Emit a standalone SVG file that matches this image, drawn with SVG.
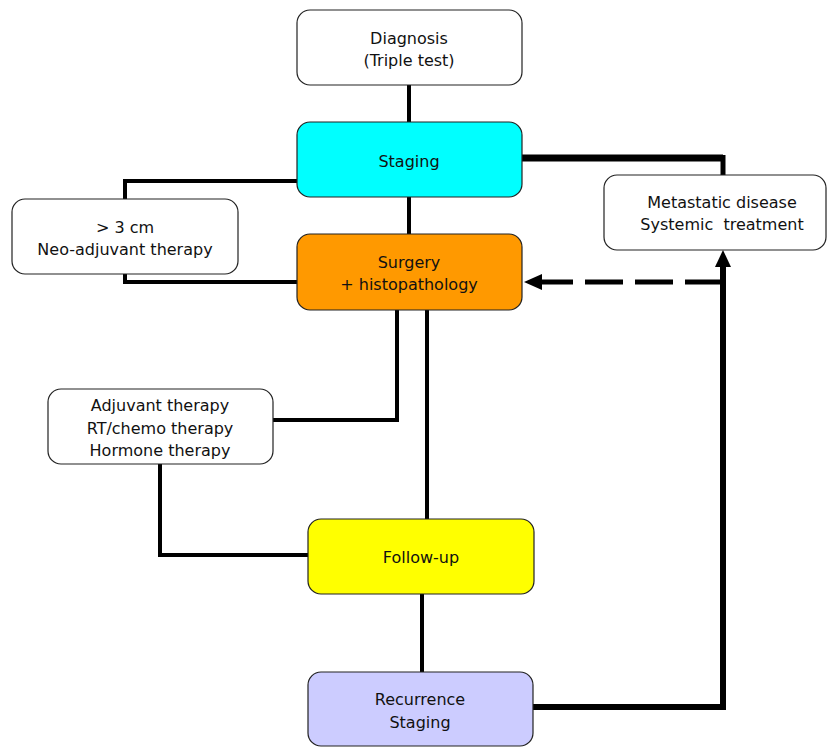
<svg xmlns="http://www.w3.org/2000/svg" width="832" height="747" viewBox="0 0 832 747">
<style>
.box{stroke:#222;stroke-width:1.2}
.t{font-family:"DejaVu Sans",Verdana,sans-serif;font-size:16px;fill:#111;text-anchor:middle}
.c{fill:none;stroke:#000;stroke-linejoin:miter;stroke-linecap:butt}
</style>
<defs>
<marker id="ah" viewBox="0 0 10 10" refX="9" refY="5" markerWidth="3" markerHeight="3" orient="auto" markerUnits="strokeWidth">
<path d="M0,0L10,5L0,10z" fill="#000"/>
</marker>
</defs>
<rect width="832" height="747" fill="#fff"/>
<g id="connectors">
<path class="c" stroke-width="4" d="M409,85V122"/>
<path class="c" stroke-width="4" d="M409,197V234"/>
<path class="c" stroke-width="7" d="M522,158H723"/>
<path class="c" stroke-width="5" d="M723,155V175"/>
<path class="c" stroke-width="4" d="M297,181H125V199"/>
<path class="c" stroke-width="4" d="M125,274V282H297"/>
<path class="c" stroke-width="5" stroke-dasharray="38,12" d="M723,282H542"/>
<path d="M524,282L542,274L542,290z" fill="#000"/>
<path class="c" stroke-width="6" d="M533,707H723V266"/>
<path d="M723,250L715,267L731,267z" fill="#000"/>
<path class="c" stroke-width="4" d="M273,420H397V310"/>
<path class="c" stroke-width="4" d="M427,310V519"/>
<path class="c" stroke-width="4" d="M160,464V555H308"/>
<path class="c" stroke-width="4" d="M422,594V672"/>
</g>
<g id="diagnosis">
<rect class="box" x="297" y="10" width="225" height="75" rx="13" fill="#fff"/>
<text class="t" x="409" y="44">Diagnosis</text>
<text class="t" x="409" y="66">(Triple test)</text>
</g>
<g id="staging">
<rect class="box" x="297" y="122" width="225" height="75" rx="13" fill="#00ffff"/>
<text class="t" x="409" y="167">Staging</text>
</g>
<g id="surgery">
<rect class="box" x="297" y="234" width="225" height="76" rx="13" fill="#ff9900"/>
<text class="t" x="409" y="268">Surgery</text>
<text class="t" x="409" y="290">+ histopathology</text>
</g>
<g id="metastatic">
<rect class="box" x="604" y="175" width="222" height="75" rx="13" fill="#fff"/>
<text class="t" x="722" y="208">Metastatic disease</text>
<text class="t" x="722" y="230" xml:space="preserve">Systemic  treatment</text>
</g>
<g id="neoadjuvant">
<rect class="box" x="12" y="199" width="226" height="75" rx="13" fill="#fff"/>
<text class="t" x="125" y="233">&gt; 3 cm</text>
<text class="t" x="125" y="255">Neo-adjuvant therapy</text>
</g>
<g id="adjuvant">
<rect class="box" x="48" y="389" width="225" height="75" rx="13" fill="#fff"/>
<text class="t" x="160" y="411">Adjuvant therapy</text>
<text class="t" x="160" y="434">RT/chemo therapy</text>
<text class="t" x="160" y="456">Hormone therapy</text>
</g>
<g id="followup">
<rect class="box" x="308" y="519" width="226" height="75" rx="13" fill="#ffff00"/>
<text class="t" x="421" y="563">Follow-up</text>
</g>
<g id="recurrence">
<rect class="box" x="308" y="672" width="225" height="74" rx="13" fill="#ccccff"/>
<text class="t" x="420" y="705">Recurrence</text>
<text class="t" x="420" y="728">Staging</text>
</g>
</svg>
